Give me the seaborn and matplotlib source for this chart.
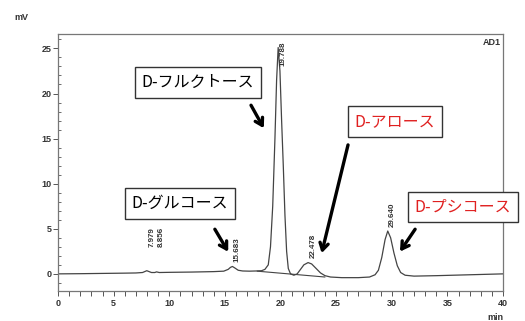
import matplotlib
matplotlib.use('Agg')
import matplotlib.pyplot as plt
import seaborn as sns
import pandas as pd
from matplotlib.ticker import MultipleLocator

# chromatogram trace (min, mV)
time_min = [0, 2, 4, 6, 7.0, 7.6, 7.98, 8.4, 8.7, 8.86, 9.1, 10, 12, 14, 14.9, 15.3,
            15.5, 15.68, 15.9, 16.2, 16.6, 17.2, 17.8, 18.3, 18.6, 18.9, 19.1, 19.3,
            19.5, 19.65, 19.79, 19.95, 20.1, 20.25, 20.4, 20.55, 20.7, 20.9, 21.2,
            21.5, 21.8, 22.1, 22.48, 22.8, 23.2, 23.6, 24.0, 24.5, 25.5, 27, 28.0,
            28.5, 28.8, 29.1, 29.4, 29.64, 29.9, 30.2, 30.5, 30.8, 31.2, 32, 34, 37, 40]
signal_mv = [0.0, 0.02, 0.05, 0.08, 0.1, 0.15, 0.35, 0.15, 0.15, 0.22, 0.15, 0.17, 0.2,
             0.25, 0.3, 0.5, 0.72, 0.82, 0.65, 0.4, 0.32, 0.3, 0.32, 0.35, 0.5, 1.0,
             3.0, 7.5, 15.0, 21.5, 25.1, 22.5, 17.0, 12.0, 6.5, 2.5, 0.6, 0.0, -0.15,
             0.0, 0.5, 1.0, 1.25, 1.1, 0.6, 0.1, -0.2, -0.35, -0.42, -0.42, -0.35,
             -0.1, 0.4, 1.8, 3.8, 4.75, 4.0, 2.3, 0.9, 0.15, -0.15, -0.25, -0.2, -0.1, 0.0]

# integration baseline under the fructose / allose peaks
base_t = [17.9, 24.0]
base_mv = [0.3, -0.35]

# peak tables
peak_rt = [7.979, 8.856, 15.683, 19.788, 22.478, 29.640]
peak_h = [0.35, 0.22, 0.82, 25.1, 1.25, 4.75]
peak_labels = ['7.979', '8.856', '15.683', '19.788', '22.478', '29.640']

compounds = ['D-フルクトース', 'D-アロース', 'D-グルコース', 'D-プシコース']
compound_colors = ['black', '#e02020', 'black', '#e02020']

sns.set_style('white')
plt.rcParams['font.family'] = ['Liberation Sans', 'DejaVu Sans']

fig = plt.figure(figsize=(5.25, 3.21), dpi=100)
ax = fig.add_axes([58 / 525, 1 - 291 / 321, 445 / 525, 257 / 321])

df = pd.DataFrame({'t': time_min, 'mv': signal_mv})
sns.lineplot(data=df, x='t', y='mv', ax=ax, color='#444444', lw=0.9, sort=False)
sns.lineplot(x=base_t, y=base_mv, ax=ax, color='#444444', lw=0.8)

ax.set_xlim(0, 40)
ax.set_ylim(-1.9, 26.6)
ax.set_xlabel('')
ax.set_ylabel('')

ax.xaxis.set_major_locator(MultipleLocator(5))
ax.xaxis.set_minor_locator(MultipleLocator(1))
ax.yaxis.set_major_locator(MultipleLocator(5))
ax.yaxis.set_minor_locator(MultipleLocator(1))
ax.tick_params(axis='x', which='both', direction='out', length=3.5, width=0.7,
               color='#555555', labelsize=6.5, pad=2, bottom=True)
ax.tick_params(axis='y', which='major', direction='out', length=3.5, width=0.7,
               color='#555555', labelsize=6.5, pad=1, left=True)
ax.tick_params(axis='y', which='minor', direction='in', length=2, width=0.6,
               color='#555555', left=True)
for lab in ax.get_xticklabels() + ax.get_yticklabels():
    lab.set_fontweight('bold')
    lab.set_color('#333333')

for s in ax.spines.values():
    s.set_color('#777777')
    s.set_linewidth(0.9)

# retention-time labels
for rt, h, lab in zip(peak_rt, peak_h, peak_labels):
    y0 = min(h + 0.5, 23.0)
    if h < 0.5:
        y0 = 3.0
    ax.text(rt + 0.45, y0, lab, rotation=90, ha='center', va='bottom',
            fontsize=5.8, color='#333333', fontweight='bold')

# compound boxes with arrows
box_xy = [(12.6, 21.2), (30.3, 16.9), (10.97, 7.8), (36.4, 7.4)]
tails = [(17.35, 18.7), (26.07, 14.3), (14.1, 4.95), (32.1, 4.95)]
tips = [(18.5, 16.15), (23.7, 2.3), (15.3, 2.45), (30.74, 2.47)]
cjk = ['Noto Sans CJK JP', 'DejaVu Sans']
for name, col, (bx, by), tail, tip in zip(compounds, compound_colors, box_xy, tails, tips):
    ax.text(bx, by, name, ha='center', va='center', fontsize=11.5, color=col,
            family=cjk, clip_on=False,
            bbox=dict(boxstyle='square,pad=0.42', fc='white', ec='#333333', lw=1.0))
    ax.annotate('', xy=tip, xytext=tail,
                arrowprops=dict(arrowstyle='->,head_length=0.5,head_width=0.3',
                                color='black', lw=2.4, shrinkA=0, shrinkB=0))

fig.text(14 / 525, 1 - 17 / 321, 'mV', fontsize=6.5, fontweight='bold',
         color='#333333', va='center')
ax.text(0.995, 0.985, 'AD1', transform=ax.transAxes, ha='right', va='top',
        fontsize=6.5, fontweight='bold', color='#333333')
fig.text(495 / 525, 1 - 317 / 321, 'min', fontsize=6.5, fontweight='bold',
         color='#333333', ha='center', va='center')

fig.savefig('out.png', dpi=100)
